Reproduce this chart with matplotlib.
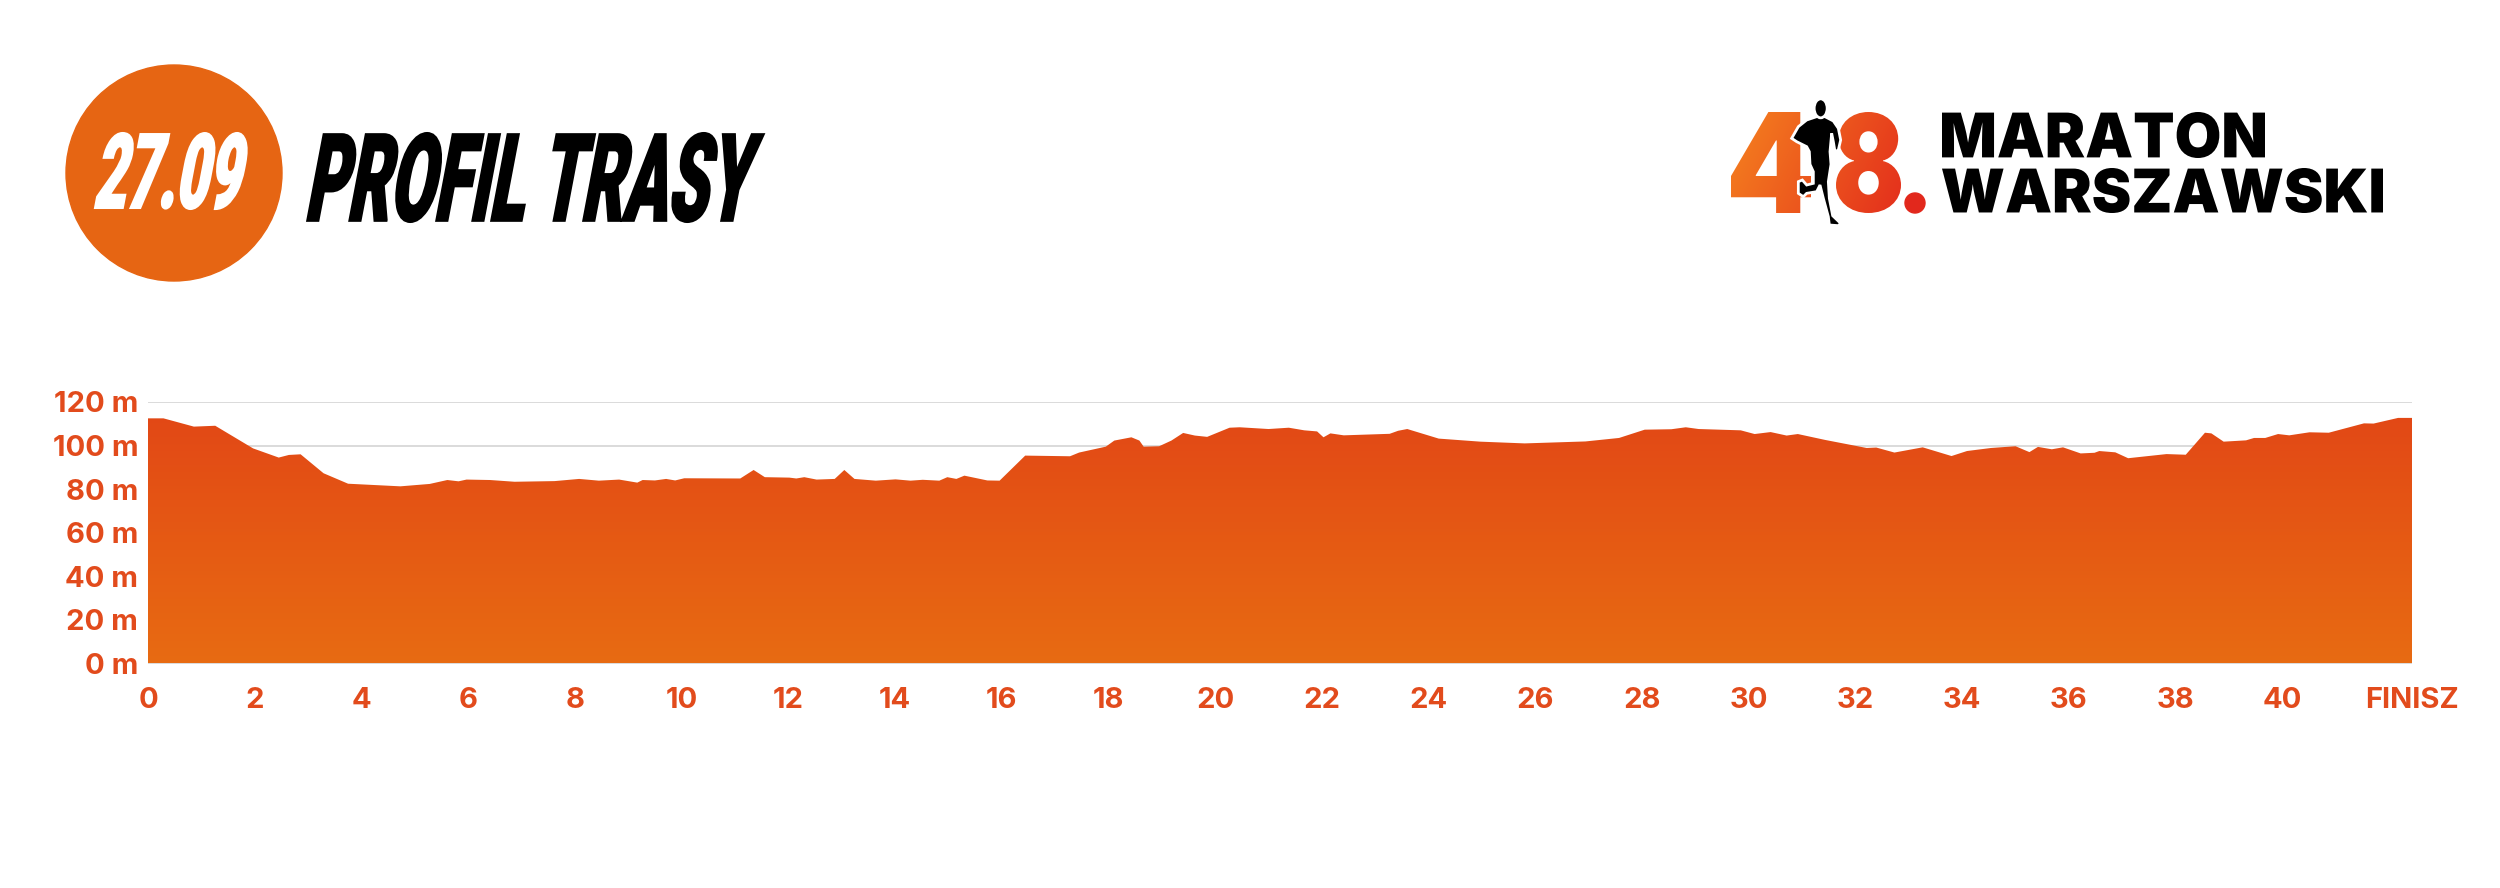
import numpy as np
import matplotlib
matplotlib.use("Agg")
import matplotlib.pyplot as plt
from matplotlib.textpath import TextPath
from matplotlib.font_manager import FontProperties
from matplotlib.patches import PathPatch, Circle, Ellipse, Polygon
from matplotlib.path import Path
from matplotlib.colors import LinearSegmentedColormap

# profil trasy: km / wysokosc (m)
km = [0.0, 0.29, 0.86, 1.26, 1.97, 2.45, 2.64, 2.86, 3.29, 3.75, 4.73, 5.28, 5.61, 5.82,
      5.97, 6.41, 6.87, 7.62, 8.08, 8.45, 8.83, 9.17, 9.27, 9.5, 9.71, 9.88, 10.05, 11.1,
      11.35, 11.56, 12.02, 12.15, 12.3, 12.53, 12.87, 13.05, 13.24, 13.64, 14.01, 14.29,
      14.52, 14.83, 14.98, 15.15, 15.3, 15.73, 15.96, 16.44, 17.28, 17.45, 17.95, 18.11,
      18.43, 18.58, 18.66, 18.95, 19.18, 19.4, 19.62, 19.85, 20.27, 20.46, 21.0, 21.38,
      21.67, 21.91, 22.03, 22.16, 22.41, 23.27, 23.43, 23.6, 24.19, 24.97, 25.8, 26.94,
      27.57, 28.05, 28.55, 28.82, 29.06, 29.85, 30.11, 30.41, 30.71, 30.92, 31.43, 32.21,
      32.39, 32.73, 33.26, 33.8, 34.09, 34.54, 35.0, 35.26, 35.42, 35.68, 35.89, 36.22,
      36.48, 36.57, 36.87, 37.11, 37.83, 38.19, 38.55, 38.67, 38.9, 39.32, 39.47, 39.68,
      39.92, 40.13, 40.51, 40.87, 41.53, 41.71, 42.17, 42.43]
elev = [112.5, 112.5, 108.7, 109.1, 98.7, 94.5, 95.7, 96.0, 87.3, 82.5, 81.3, 82.4, 84.2, 83.6,
        84.4, 84.2, 83.4, 83.7, 84.7, 83.9, 84.4, 83.0, 84.2, 84.0, 84.7, 84.0, 85.0, 84.9,
        88.8, 85.5, 85.3, 84.9, 85.5, 84.4, 84.7, 88.8, 84.7, 83.9, 84.5, 83.9,
        84.3, 83.9, 85.5, 84.7, 86.2, 84.0, 83.9, 95.4, 95.1, 96.8, 99.5, 102.3,
        103.8, 102.3, 99.5, 99.7, 102.3, 105.8, 104.6, 104.0, 108.2, 108.4, 107.6, 108.2,
        107.0, 106.5, 103.8, 105.6, 104.7, 105.4, 106.8, 107.6, 103.2, 101.8, 101.0, 101.9,
        103.5, 107.3, 107.5, 108.4, 107.6, 107.0, 105.3, 106.2, 104.6, 105.3, 102.6, 98.9,
        99.1, 96.8, 99.2, 95.2, 97.5, 98.9, 99.7, 97.0, 99.4, 98.3, 99.2, 96.4,
        96.7, 97.5, 96.9, 94.2, 96.1, 95.8, 105.9, 105.6, 101.8, 102.4, 103.5, 103.5,
        105.3, 104.7, 106.1, 105.9, 110.2, 110.1, 112.7, 112.7]

x_ticks = list(range(0, 41, 2))
x_labels = [str(t) for t in x_ticks] + ["FINISZ"]
y_ticks = [0, 20, 40, 60, 80, 100, 120]
y_labels = [f"{t} m" for t in y_ticks]

ORANGE = "#e24b1c"
W, H = 2500, 888

fig = plt.figure(figsize=(25, 8.88), dpi=100)
fig.patch.set_facecolor("white")

# --- wykres ---
ax = fig.add_axes([148 / W, 1 - 663.5 / H, (2412 - 148) / W, (663.5 - 402) / H])
ax.set_xlim(0, km[-1])
ax.set_ylim(0, 120)

verts = [(km[0], 0)] + list(zip(km, elev)) + [(km[-1], 0)]
shape = Polygon(verts, closed=True, facecolor="none", edgecolor="none")
ax.add_patch(shape)
cmap = LinearSegmentedColormap.from_list("prof", ["#e86b12", "#e24616"])
grad = np.linspace(0, 1, 256).reshape(-1, 1)
im = ax.imshow(grad, cmap=cmap, origin="lower", aspect="auto",
               extent=[0, km[-1], 0, 120], zorder=2)
im.set_clip_path(shape)

ax.set_yticks(y_ticks)
ax.set_yticklabels(y_labels)
ax.set_xticks(x_ticks + [km[-1]])
ax.set_xticklabels(x_labels)
ax.grid(axis="y", color="#d4d4d4", lw=1.2, zorder=0)
ax.set_axisbelow(True)
ax.tick_params(length=0)
ax.tick_params(axis="y", pad=7)
ax.tick_params(axis="x", pad=17)
for lab in ax.get_xticklabels() + ax.get_yticklabels():
    lab.set_fontfamily("Inter")
    lab.set_fontweight("bold")
    lab.set_fontsize(21)
    lab.set_color(ORANGE)
for s in ax.spines.values():
    s.set_visible(False)


# --- naglowek (warstwa w pikselach) ---
over = fig.add_axes([0, 0, 1, 1], zorder=3)
over.axis("off")


def boxed_text(s, x0, y0, x1, y1, color, family="Roboto", weight="black", slant=0.0, stroke=0.0):
    tp = TextPath((0, 0), s, size=100, prop=FontProperties(family=family, weight=weight))
    v = tp.vertices.copy()
    m = tp.codes != Path.CLOSEPOLY
    bx0, by0 = v[m].min(axis=0)
    bx1, by1 = v[m].max(axis=0)
    h = y1 - y0
    w = (x1 - x0) - slant * h
    nx = x0 + (v[:, 0] - bx0) / (bx1 - bx0) * w
    ny = y1 - (v[:, 1] - by0) / (by1 - by0) * h
    nx = nx + slant * (y1 - ny)
    patch = PathPatch(Path(np.column_stack([nx, ny]), tp.codes), facecolor=color,
                      edgecolor=color if stroke else "none", lw=stroke, zorder=5)
    over.add_patch(patch)
    return patch


over.add_patch(Circle((174, 173), 108, color="#e66513", zorder=4))
boxed_text("27.09", 94, 133, 251, 209, "white", slant=0.19, stroke=1.5)
boxed_text("PROFIL TRASY", 307, 133, 764, 222, "black", slant=0.19, stroke=1.5)

# logo "48." z gradientem
lcmap = LinearSegmentedColormap.from_list("logo", ["#f5821f", "#e2261c"])
gx, gy = np.meshgrid(np.linspace(0, 1, 200), np.linspace(0, 1, 100))
logo_grad = gx * 0.8 + gy * 0.2
for ch, box in [("4", (1731, 112, 1811, 213)), ("8", (1836, 112, 1901, 213)),
                ("", None)]:
    if not ch:
        continue
    glyph = boxed_text(ch, *box, "none", family="Inter", weight="black")
    g = over.imshow(logo_grad, cmap=lcmap, origin="upper", aspect="auto", vmin=0, vmax=1,
                    extent=[1731, 1925, 213, 112], zorder=5)
    g.set_clip_path(glyph)
over.add_patch(Circle((1915, 203), 10, color="#e2281c", zorder=5))

runner = [(140, 95), (165, 95), (190, 108), (205, 130), (212, 165), (205, 195), (195, 200),
          (190, 170), (185, 145), (180, 200), (183, 238), (175, 290), (178, 340), (188, 392),
          (212, 415), (205, 422), (178, 420), (175, 395), (160, 340), (150, 300), (140, 320),
          (110, 325), (100, 335), (85, 325), (85, 290), (97, 285), (110, 300), (130, 295),
          (130, 260), (120, 238), (118, 200), (110, 185), (80, 170), (65, 160), (85, 125),
          (110, 105)]
runner_px = [(1770 + a / 3, 85 + b / 3) for a, b in runner]
over.add_patch(Polygon(runner_px, closed=True, facecolor="black", edgecolor="white",
                       lw=2, zorder=6))
over.add_patch(Ellipse((1770 + 152 / 3, 85 + 70 / 3), 13, 19, facecolor="black",
                       edgecolor="white", lw=2, zorder=6))

boxed_text("MARATON", 1942, 112, 2265, 158, "black", family="Inter", weight="black")
boxed_text("WARSZAWSKI", 1942, 168, 2383, 213, "black", family="Inter", weight="black")

over.set_xlim(0, W)
over.set_ylim(H, 0)

fig.savefig("out.png", dpi=100, facecolor="white")
